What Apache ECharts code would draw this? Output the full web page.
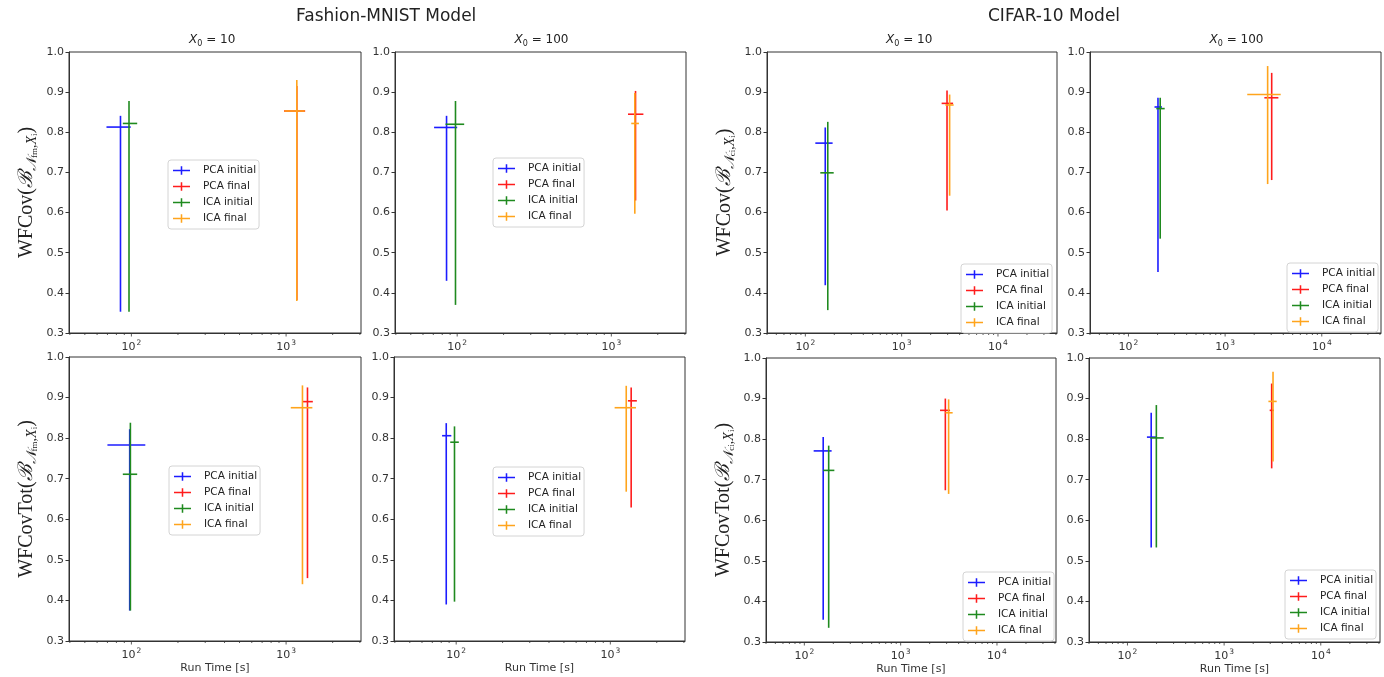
<!DOCTYPE html>
<html>
<head>
<meta charset="utf-8">
<script src="https://cdn.jsdelivr.net/npm/echarts@6/dist/echarts.min.js"></script>
<style>
  html, body { margin: 0; padding: 0; background: #fff; }
  #chart { width: 1384px; height: 677px; pointer-events: none; }
</style>
</head>
<body>
<div id="chart"></div>
<script>
// series order: PCA initial, PCA final, ICA initial, ICA final
const seriesNames = ['PCA initial', 'PCA final', 'ICA initial', 'ICA final']
const seriesColors = ['#1c1cff', '#ff1c1c', '#1f8a1f', '#ffa41c']

// each row: [runTime, runTimeLow, runTimeHigh, value, valueLow, valueHigh]
const fmCov10 = [
  [85, 69, 99, 0.813, 0.353, 0.841],
  [1173, 970, 1328, 0.853, 0.382, 0.915],
  [96.5, 88, 109, 0.822, 0.353, 0.878],
  [1173, 975, 1320, 0.853, 0.38, 0.93]
]
const fmCov100 = [
  [85.3, 70.8, 100, 0.812, 0.43, 0.841],
  [1435, 1282, 1614, 0.845, 0.63, 0.903],
  [97.5, 84, 111, 0.82, 0.37, 0.878],
  [1420, 1346, 1510, 0.822, 0.597, 0.898]
]
const ciCov10 = [
  [161, 127, 192, 0.773, 0.419, 0.812],
  [2958, 2600, 3420, 0.872, 0.605, 0.904],
  [171, 143, 197, 0.699, 0.357, 0.826],
  [3148, 2843, 3467, 0.868, 0.642, 0.894]
]
const ciCov100 = [
  [202, 186, 222, 0.863, 0.452, 0.886],
  [3033, 2546, 3557, 0.886, 0.681, 0.948],
  [213, 194, 237, 0.859, 0.535, 0.886],
  [2754, 1694, 3758, 0.894, 0.671, 0.965]
]
const fmTot10 = [
  [97.5, 70, 123, 0.783, 0.375, 0.822],
  [1375, 1283, 1489, 0.89, 0.455, 0.925],
  [98.5, 88, 109, 0.711, 0.375, 0.838],
  [1276, 1072, 1479, 0.875, 0.44, 0.93]
]
const fmTot100 = [
  [86.2, 81, 93, 0.806, 0.39, 0.837],
  [1365, 1300, 1486, 0.892, 0.629, 0.925],
  [97.5, 91.5, 104, 0.79, 0.397, 0.829],
  [1268, 1066, 1466, 0.875, 0.668, 0.929]
]
const ciTot10 = [
  [157, 125, 192, 0.771, 0.355, 0.805],
  [2910, 2564, 3258, 0.871, 0.674, 0.9],
  [179, 157, 205, 0.723, 0.335, 0.784],
  [3148, 2910, 3467, 0.865, 0.665, 0.898]
]
const ciTot100 = [
  [176, 159, 199, 0.805, 0.533, 0.865],
  [3105, 2960, 3281, 0.871, 0.728, 0.937],
  [199, 172, 237, 0.803, 0.533, 0.884],
  [3206, 2872, 3499, 0.893, 0.745, 0.966]
]

// axis ranges and tick values
const yTicks = [0.3, 0.4, 0.5, 0.6, 0.7, 0.8, 0.9, 1.0]
const fmRange = [39.5, 3050]
const ciRange = [40, 41000]
const fmMajor = [100, 1000]
const fmMinor = [40, 50, 60, 70, 80, 90, 200, 300, 400, 500, 600, 700, 800, 900, 2000, 3000]
const ciMajor = [100, 1000, 10000]
const ciMinor = [40, 50, 60, 70, 80, 90, 200, 300, 400, 500, 600, 700, 800, 900,
  2000, 3000, 4000, 5000, 6000, 7000, 8000, 9000, 20000, 30000, 40000]

const nameCovFm = '{a|WFCov(}{b|ℬ}{c|𝒩}{d|fm}{c|,X}{d|i}{a|)}'
const nameCovCi = '{a|WFCov(}{b|ℬ}{c|𝒩}{d|ci}{c|,X}{d|i}{a|)}'
const nameTotFm = '{a|WFCovTot(}{b|ℬ}{c|𝒩}{d|fm}{c|,X}{d|i}{a|)}'
const nameTotCi = '{a|WFCovTot(}{b|ℬ}{c|𝒩}{d|ci}{c|,X}{d|i}{a|)}'

const panels = [
  { data: fmCov10, box: [69, 52, 292, 281], kind: 'fm', yName: nameCovFm, x0: '10', legend: [168, 160] },
  { data: fmCov100, box: [395, 52, 291, 281], kind: 'fm', yName: '', x0: '100', legend: [493, 158] },
  { data: ciCov10, box: [767, 52, 290, 281], kind: 'ci', yName: nameCovCi, x0: '10', legend: [961, 264] },
  { data: ciCov100, box: [1090, 52, 291, 281], kind: 'ci', yName: '', x0: '100', legend: [1287, 263] },
  { data: fmTot10, box: [69, 357, 292, 284], kind: 'fm', yName: nameTotFm, x0: '', legend: [169, 466] },
  { data: fmTot100, box: [394, 357, 291, 284], kind: 'fm', yName: '', x0: '', legend: [493, 467] },
  { data: ciTot10, box: [766, 358, 290, 284], kind: 'ci', yName: nameTotCi, x0: '', legend: [963, 572] },
  { data: ciTot100, box: [1089, 358, 291, 284], kind: 'ci', yName: '', x0: '', legend: [1285, 570] }
]

const font = 'DejaVu Sans'
const mathFont = 'Liberation Serif'
const crossIcon = 'path://M0,4.1H20V5.9H0Z M9.1,0H10.9V10H9.1Z'

function isPow10(v) {
  const l = Math.log10(v)
  return Math.abs(l - Math.round(l)) < 1e-6
}

function renderErr(params, api) {
  const x = api.value(0), xlo = api.value(1), xhi = api.value(2)
  const y = api.value(3), ylo = api.value(4), yhi = api.value(5)
  const a = api.coord([xlo, y]), b = api.coord([xhi, y])
  const c = api.coord([x, ylo]), d = api.coord([x, yhi])
  const style = { stroke: api.visual('color'), lineWidth: 1.6 }
  return {
    type: 'group',
    children: [
      { type: 'line', shape: { x1: a[0], y1: a[1], x2: b[0], y2: b[1] }, style },
      { type: 'line', shape: { x1: c[0], y1: c[1], x2: d[0], y2: d[1] }, style }
    ]
  }
}

function renderTick(params, api) {
  const p = api.coord([api.value(0), 0.3])
  const len = api.value(1)
  return {
    type: 'line',
    shape: { x1: p[0], y1: p[1], x2: p[0], y2: p[1] + len },
    style: { stroke: '#333', lineWidth: 0.8 }
  }
}

const grid = [], xAxis = [], yAxis = [], series = [], legend = [], graphic = []

panels.forEach((p, i) => {
  const bottomRow = i >= 4
  const range = p.kind === 'fm' ? fmRange : ciRange
  grid.push({
    left: p.box[0], top: p.box[1], width: p.box[2], height: p.box[3],
    show: true, borderColor: '#333', borderWidth: 1, backgroundColor: '#fff'
  })
  xAxis.push({
    type: 'log', gridIndex: i, min: range[0], max: range[1], logBase: 10,
    name: bottomRow ? 'Run Time [s]' : '',
    nameLocation: 'middle', nameGap: 22,
    nameTextStyle: { fontFamily: font, fontSize: 11, color: '#333' },
    axisLine: { show: true, lineStyle: { color: '#333', width: 1 } },
    axisTick: { show: false },
    splitLine: { show: false },
    axisLabel: {
      margin: 6, fontFamily: font, fontSize: 11, color: '#333',
      showMinLabel: true, showMaxLabel: true,
      formatter: v => isPow10(v) ? '{b|10}{s|' + Math.round(Math.log10(v)) + '}' : '',
      rich: {
        b: { fontFamily: font, fontSize: 11, color: '#333', lineHeight: 14, verticalAlign: 'bottom' },
        s: { fontFamily: font, fontSize: 7.5, color: '#333', lineHeight: 14, verticalAlign: 'top', padding: [0, 0, 6, 1] }
      }
    }
  })
  yAxis.push({
    type: 'value', gridIndex: i, min: yTicks[0], max: yTicks[yTicks.length - 1], interval: 0.1,
    name: p.yName, nameLocation: 'middle', nameRotate: 90, nameGap: 30,
    nameTextStyle: {
      rich: {
        a: { fontFamily: mathFont, fontSize: 20, color: '#222', lineHeight: 24, verticalAlign: 'middle' },
        b: { fontFamily: mathFont, fontSize: 20, fontStyle: 'italic', color: '#222', lineHeight: 24, verticalAlign: 'middle' },
        c: { fontFamily: mathFont, fontSize: 14, fontStyle: 'italic', color: '#222', lineHeight: 16, verticalAlign: 'bottom' },
        d: { fontFamily: mathFont, fontSize: 9, color: '#222', lineHeight: 9, verticalAlign: 'bottom' }
      }
    },
    axisLine: { show: true, lineStyle: { color: '#333', width: 1 } },
    axisTick: { show: true, length: 3.5, lineStyle: { color: '#333' } },
    splitLine: { show: false },
    axisLabel: {
      margin: 5, fontFamily: font, fontSize: 11, color: '#333',
      formatter: v => v.toFixed(1)
    }
  })
  // x ticks in the matplotlib style: major and minor marks below the axis
  const major = p.kind === 'fm' ? fmMajor : ciMajor
  const minor = p.kind === 'fm' ? fmMinor : ciMinor
  series.push({
    type: 'custom', name: 'ticks', xAxisIndex: i, yAxisIndex: i, silent: true,
    renderItem: renderTick,
    data: major.map(v => [v, 3.5]).concat(minor.map(v => [v, 2]))
  })
  p.data.forEach((row, k) => {
    series.push({
      type: 'custom', name: seriesNames[k], xAxisIndex: i, yAxisIndex: i,
      legendHoverLink: false,
      itemStyle: { color: seriesColors[k] },
      encode: { x: [0, 1, 2], y: [3, 4, 5] },
      renderItem: renderErr,
      data: [row]
    })
  })
  legend.push({
    data: seriesNames.map((n, k) => ({ name: n, itemStyle: { color: seriesColors[k] } })),
    orient: 'vertical', left: p.legend[0], top: p.legend[1],
    icon: crossIcon, itemWidth: 17, itemHeight: 10, itemGap: 5,
    padding: [5, 3, 5, 5], backgroundColor: '#fff',
    borderColor: '#d4d4d4', borderWidth: 1, borderRadius: 3,
    selectedMode: false,
    textStyle: { fontFamily: font, fontSize: 10.5, color: '#222', padding: [0, 0, 0, 8] }
  })
  if (p.x0) {
    graphic.push({
      type: 'text', left: p.box[0] + p.box[2] / 2 - 26, top: 34,
      style: {
        text: '{i|X}{s|0}{n| = ' + p.x0 + '}',
        rich: {
          i: { fontFamily: font, fontSize: 12, fontStyle: 'italic', fill: '#222', lineHeight: 16, verticalAlign: 'middle' },
          s: { fontFamily: font, fontSize: 8, fill: '#222', lineHeight: 12, verticalAlign: 'bottom' },
          n: { fontFamily: font, fontSize: 12, fill: '#222', lineHeight: 16, verticalAlign: 'middle' }
        }
      }
    })
  }
})

graphic.push({
  type: 'text', left: 296, top: 8,
  style: { text: 'Fashion-MNIST Model', fontFamily: font, fontSize: 17, fill: '#222' }
})
graphic.push({
  type: 'text', left: 988, top: 8,
  style: { text: 'CIFAR-10 Model', fontFamily: font, fontSize: 17, fill: '#222' }
})

const chart = echarts.init(document.getElementById('chart'), null, { renderer: 'canvas' })
chart.setOption({
  backgroundColor: '#fff',
  animation: false,
  grid, xAxis, yAxis, series, legend, graphic
})
</script>
</body>
</html>
